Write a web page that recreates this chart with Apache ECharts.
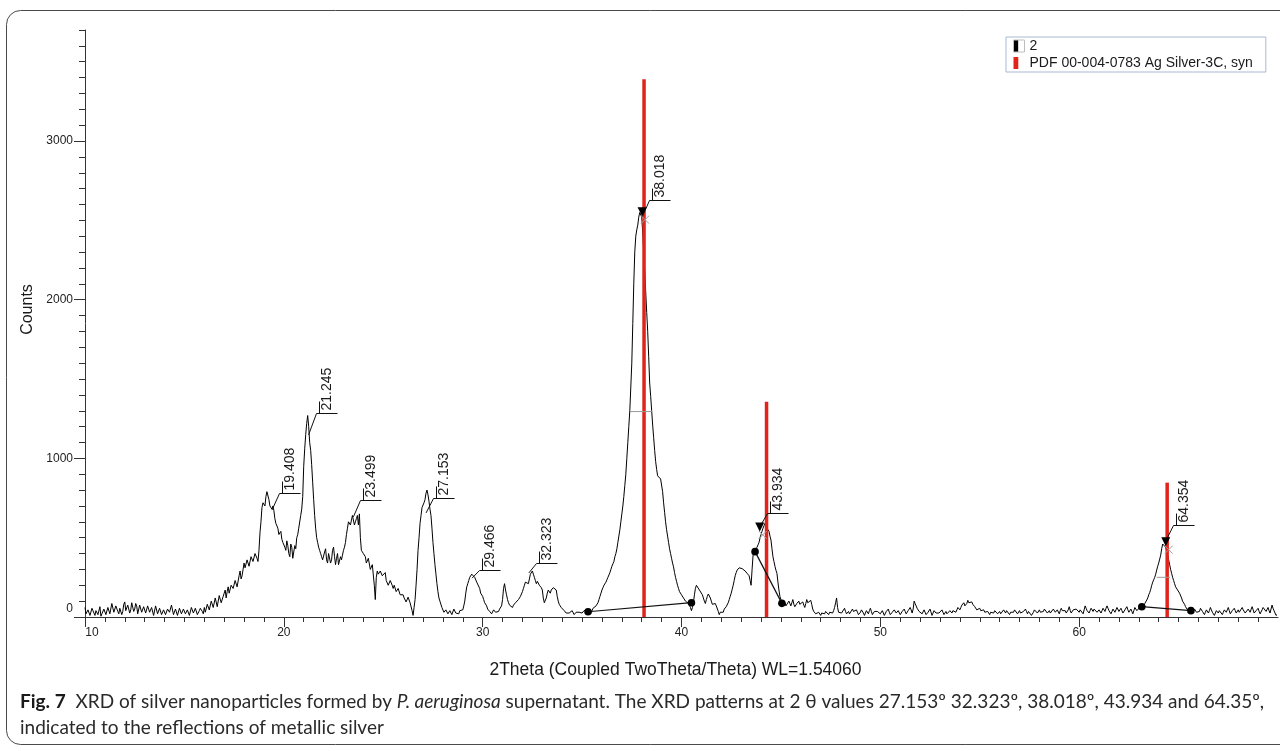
<!DOCTYPE html>
<html>
<head>
<meta charset="utf-8">
<script src="https://cdn.jsdelivr.net/npm/echarts@6/dist/echarts.min.js"></script>
<style>
  html, body { margin: 0; padding: 0; background: #ffffff; }
  #chart { width: 1280px; height: 751px; }
</style>
</head>
<body>
<div id="chart"></div>
<script>
// XRD scan: 2θ from 10.00° in 0.05° steps, intensity in counts (one row per degree)
const scanStart = 10.0;
const scanStep = 0.05;
const scanCounts = [
  60, 20, 15, 45, 45, 10, 20, 55, 50, 25, 10, 40, 35, 15, 25, 65, 5, 20, 30, 50,
  45, 15, 10, 60, 70, 20, 25, 85, 90, 30, 40, 70, 75, 35, 20, 55, 60, 15, 35, 80,
  95, 40, 30, 75, 80, 25, 45, 90, 100, 35, 50, 85, 70, 20, 30, 75, 85, 30, 40, 65,
  60, 25, 20, 70, 75, 30, 35, 60, 55, 10, 15, 70, 65, 20, 30, 55, 50, 15, 20, 45,
  45, 15, 10, 50, 55, 30, 25, 75, 70, 15, 20, 50, 40, 10, 15, 55, 60, 20, 25, 50,
  50, 20, 15, 45, 40, 10, 20, 60, 65, 25, 30, 55, 45, 15, 10, 40, 55, 60, 35, 20,
  60, 30, 25, 80, 85, 45, 40, 100, 110, 60, 55, 120, 125, 65, 70, 135, 140, 90, 95, 130,
  150, 170, 120, 160, 190, 150, 140, 200, 210, 180, 170, 230, 240, 190, 200, 260, 290, 240, 260, 300,
  340, 310, 300, 360, 370, 320, 330, 380, 390, 350, 360, 400, 400, 370, 350, 420, 530, 600, 690, 720,
  720, 700, 760, 790, 780, 740, 700, 690, 680, 700, 670, 620, 590, 600, 560, 520, 510, 540, 490, 470,
  470, 440, 420, 480, 450, 400, 380, 460, 440, 370, 360, 450, 430, 500, 520, 560, 560, 640, 680, 760,
  950, 1060, 1150, 1220, 1270, 1200, 1100, 1050, 960, 850, 740, 640, 560, 500, 470, 440, 420, 400, 380, 360,
  350, 410, 430, 360, 340, 400, 410, 340, 360, 420, 440, 380, 330, 370, 400, 330, 320, 380, 360, 390,
  420, 440, 470, 520, 560, 600, 610, 580, 590, 640, 630, 580, 600, 620, 640, 580, 650, 500, 420, 410,
  400, 390, 380, 340, 330, 370, 360, 300, 290, 330, 320, 200, 110, 250, 290, 270, 260, 290, 300, 260,
  250, 270, 280, 230, 220, 200, 190, 230, 240, 200, 180, 200, 210, 160, 150, 180, 170, 140, 130, 150,
  140, 120, 110, 95, 90, 125, 120, 90, 80, 40, 10, 60, 110, 200, 300, 420, 500, 590, 640, 690,
  700, 720, 740, 780, 800, 770, 730, 680, 640, 560, 470, 400, 330, 270, 210, 160, 120, 100, 90, 60,
  50, 30, 25, 45, 40, 20, 15, 40, 35, 15, 10, 50, 45, 25, 30, 20, 20, 40, 50, 35,
  45, 70, 100, 150, 190, 210, 230, 250, 260, 270, 280, 260, 250, 240, 220, 210, 210, 180, 150, 140,
  130, 110, 90, 80, 70, 50, 40, 35, 30, 20, 25, 45, 50, 30, 20, 40, 35, 50, 45, 70,
  110, 180, 210, 170, 140, 110, 90, 75, 70, 65, 60, 75, 80, 90, 95, 100, 110, 120, 130, 120,
  160, 180, 200, 220, 230, 215, 210, 240, 270, 280, 290, 270, 250, 230, 210, 225, 230, 200, 190, 185,
  170, 120, 90, 100, 120, 150, 170, 160, 150, 170, 180, 185, 190, 180, 170, 130, 100, 80, 70, 60,
  65, 50, 40, 30, 25, 35, 35, 25, 20, 30, 40, 30, 15, 25, 30, 20, 25, 30, 35, 25,
  25, 35, 40, 30, 30, 40, 45, 30, 20, 30, 40, 55, 65, 60, 70, 80, 90, 110, 130, 150,
  170, 185, 200, 210, 220, 235, 250, 265, 280, 300, 320, 335, 350, 380, 400, 430, 470, 510, 550, 600,
  650, 700, 760, 830, 900, 1000, 1100, 1200, 1300, 1450, 1600, 1850, 2100, 2300, 2400, 2440, 2470, 2520, 2550, 2540,
  2520, 2420, 2300, 2180, 2050, 1920, 1800, 1640, 1475, 1390, 1300, 1210, 1130, 1050, 980, 930, 890, 880, 880, 870,
  860, 790, 720, 660, 600, 550, 510, 470, 430, 400, 370, 340, 316, 280, 250, 225, 200, 180, 160, 150,
  140, 130, 120, 110, 100, 95, 95, 85, 80, 60, 40, 60, 90, 140, 180, 200, 212, 190, 170, 165,
  160, 140, 120, 100, 85, 110, 130, 145, 150, 120, 100, 80, 70, 80, 85, 70, 60, 35, 15, 30,
  40, 35, 30, 50, 60, 65, 70, 90, 110, 130, 150, 175, 200, 230, 260, 280, 296, 305, 310, 315,
  316, 305, 300, 295, 290, 280, 275, 270, 260, 230, 200, 300, 390, 405, 420, 430, 440, 455, 470, 500,
  520, 540, 560, 575, 590, 575, 560, 550, 540, 510, 485, 430, 380, 350, 320, 295, 275, 220, 170, 130,
  110, 90, 75, 85, 90, 70, 60, 80, 100, 85, 70, 90, 110, 80, 65, 75, 85, 95, 100, 80,
  70, 85, 95, 75, 60, 85, 110, 90, 80, 95, 105, 80, 50, 35, 25, 20, 15, 25, 30, 20,
  10, 25, 35, 30, 20, 35, 45, 25, 15, 30, 40, 30, 25, 40, 60, 90, 120, 60, 30, 35,
  40, 25, 15, 35, 55, 35, 20, 30, 35, 20, 10, 30, 50, 35, 25, 40, 45, 30, 15, 25,
  30, 45, 50, 25, 10, 25, 40, 30, 20, 40, 55, 35, 15, 25, 35, 30, 25, 35, 45, 30,
  20, 30, 40, 25, 10, 20, 35, 45, 50, 30, 15, 25, 30, 40, 45, 35, 25, 30, 40, 30,
  15, 25, 35, 45, 50, 35, 20, 30, 40, 50, 60, 45, 25, 50, 100, 85, 70, 55, 45, 35,
  35, 25, 20, 30, 45, 30, 15, 25, 30, 40, 50, 30, 10, 25, 40, 30, 25, 30, 35, 25,
  20, 35, 45, 30, 15, 25, 35, 20, 10, 25, 40, 30, 25, 40, 50, 45, 30, 45, 60, 50,
  45, 60, 75, 85, 90, 70, 60, 85, 105, 90, 80, 90, 95, 80, 70, 65, 55, 45, 40, 50,
  55, 40, 30, 40, 45, 30, 20, 30, 35, 25, 15, 30, 40, 35, 25, 40, 50, 35, 20, 30,
  35, 20, 10, 30, 45, 35, 25, 40, 50, 30, 15, 30, 40, 35, 30, 45, 55, 40, 20, 30,
  40, 25, 15, 25, 35, 45, 50, 35, 20, 35, 45, 25, 10, 20, 30, 45, 55, 40, 25, 35,
  45, 30, 20, 30, 35, 50, 60, 40, 25, 35, 40, 25, 15, 35, 50, 40, 30, 40, 45, 35,
  20, 40, 55, 40, 30, 35, 40, 25, 15, 45, 65, 40, 25, 35, 45, 40, 35, 50, 60, 45,
  30, 45, 50, 35, 20, 45, 70, 55, 40, 30, 25, 40, 55, 45, 35, 50, 60, 45, 30, 40,
  45, 35, 25, 40, 55, 45, 35, 55, 70, 55, 40, 30, 20, 35, 50, 40, 30, 45, 60, 50,
  35, 45, 55, 40, 25, 35, 45, 55, 65, 45, 30, 40, 50, 35, 20, 40, 60, 50, 40, 45,
  50, 60, 65, 60, 60, 70, 85, 95, 107, 120, 140, 155, 175, 200, 220, 235, 250, 270, 296, 320,
  340, 365, 390, 430, 460, 470, 470, 440, 420, 390, 360, 330, 300, 275, 250, 230, 210, 190, 180, 170,
  165, 150, 140, 120, 100, 90, 80, 65, 55, 45, 40, 45, 45, 35, 25, 35, 50, 40, 30, 25,
  20, 35, 55, 45, 35, 25, 15, 30, 45, 35, 25, 40, 60, 45, 30, 20, 10, 25, 40, 30,
  25, 40, 50, 30, 15, 30, 45, 40, 30, 45, 60, 40, 20, 30, 40, 50, 55, 40, 25, 35,
  45, 30, 20, 40, 60, 45, 35, 25, 15, 35, 50, 40, 30, 50, 65, 45, 25, 30, 40, 50,
  55, 35, 20, 30, 45, 60, 70, 50, 35, 45, 60, 40, 25, 50, 75, 55, 40, 30, 10, 15
];

// Reference pattern PDF 00-004-0783 (Ag, Silver-3C, syn)
const refPositions = [38.116, 44.277, 64.426];
const refCounts = [3390, 1356, 847];

// Peak search: labelled 2θ, count where the leader starts, count of the label bracket
const peakPositions = [19.408, 21.245, 23.499, 27.153, 29.466, 32.323, 38.018, 43.934, 64.354];
const peakApex = [675, 1148, 631, 656, 245, 278, 2520, 568, 479];
const peakLabelLevel = [780, 1285, 738, 753, 295, 339, 2627, 654, 580];

// Profile-fitted peaks (triangle markers)
const fittedPositions = [38.018, 43.934, 64.354];
const fittedCounts = [2555, 568, 475];

// Background segments under the fitted peaks
const bgStart2Theta = [35.3, 43.7, 63.15];
const bgStartCounts = [33, 412, 65];
const bgEnd2Theta = [40.5, 45.05, 65.62];
const bgEndCounts = [90, 86, 40];

// Half-maximum width bars
const fwhmLeft = [37.41, 63.9];
const fwhmRight = [38.51, 64.57];
const fwhmLevel = [1295, 250];

// Axis ticks
const xTickLabels = [10, 20, 30, 40, 50, 60];
const yTickLabels = [0, 1000, 2000, 3000];
const xMinorTicks = [];
for (let v = 11; v < 70; v++) if (v % 10 !== 0) xMinorTicks.push(v);
const yMinorTicks = [];
for (let v = 100; v <= 3700; v += 100) if (v % 1000 !== 0) yMinorTicks.push(v);

const FONT = '"Liberation Sans", Arial, sans-serif';
const CAPTION_FONT = 'Lato, "Noto Sans", sans-serif';
const INK = '#1a1a1a';

const scanData = scanCounts.map((c, i) => [+(scanStart + i * scanStep).toFixed(2), c]);

const chart = echarts.init(document.getElementById('chart'), null, { renderer: 'canvas' });

const axisLineStyle = { color: '#333', width: 1 };

chart.setOption({
  animation: false,
  backgroundColor: '#ffffff',
  grid: { left: 85, right: 2, top: 30, bottom: 134, containLabel: false },
  legend: {
    left: 1006, top: 37, orient: 'vertical',
    itemGap: 3, itemWidth: 11, itemHeight: 12,
    padding: [2, 13, 2, 7],
    borderColor: '#a9b8d2', borderWidth: 1, backgroundColor: '#ffffff',
    selectedMode: false,
    textStyle: { fontFamily: FONT, fontSize: 14, color: INK },
    data: [
      {
        name: '2', icon: 'rect',
        itemStyle: {
          color: { type: 'linear', x: 0, y: 0, x2: 1, y2: 0,
            colorStops: [{ offset: 0, color: '#000' }, { offset: 0.45, color: '#000' },
                         { offset: 0.46, color: '#fff' }, { offset: 1, color: '#fff' }] },
          borderColor: '#bdbdbd', borderWidth: 1
        }
      },
      {
        name: 'PDF 00-004-0783 Ag Silver-3C, syn', icon: 'rect',
        itemStyle: {
          color: { type: 'linear', x: 0, y: 0, x2: 1, y2: 0,
            colorStops: [{ offset: 0, color: '#e2231a' }, { offset: 0.45, color: '#e2231a' },
                         { offset: 0.46, color: 'rgba(255,255,255,0)' }, { offset: 1, color: 'rgba(255,255,255,0)' }] },
          borderWidth: 0
        }
      }
    ]
  },
  xAxis: [
    {
      type: 'value', min: 10, max: 70, position: 'bottom',
      axisLine: { show: true, lineStyle: axisLineStyle },
      axisTick: { show: true, length: 10, customValues: xTickLabels, lineStyle: axisLineStyle },
      axisLabel: {
        customValues: xTickLabels, margin: 10,
        fontFamily: FONT, fontSize: 12, color: '#222',
        formatter: v => (v === 10 ? '{f|10}' : String(v)),
        rich: { f: { padding: [0, 0, 0, 14], fontFamily: FONT, fontSize: 12, color: '#222' } }
      },
      splitLine: { show: false },
      name: '2Theta (Coupled TwoTheta/Theta) WL=1.54060',
      nameLocation: 'middle', nameGap: 44,
      nameTextStyle: { fontFamily: FONT, fontSize: 17.5, color: INK, padding: [0, 12, 0, 0] }
    },
    {
      type: 'value', min: 10, max: 70, position: 'bottom',
      axisLine: { show: false },
      axisTick: { show: true, length: 5, customValues: xMinorTicks, lineStyle: axisLineStyle },
      axisLabel: { show: false },
      splitLine: { show: false }
    }
  ],
  yAxis: [
    {
      type: 'value', min: 0, max: 3700, position: 'left',
      axisLine: { show: true, lineStyle: axisLineStyle },
      axisTick: { show: true, length: 11, customValues: yTickLabels, lineStyle: axisLineStyle },
      axisLabel: {
        customValues: yTickLabels, margin: 12,
        fontFamily: FONT, fontSize: 12, color: '#222',
        formatter: v => (v === 0 ? '{z|0}' : String(v)),
        rich: { z: { padding: [0, 0, 16, 0], fontFamily: FONT, fontSize: 12, color: '#222' } }
      },
      splitLine: { show: false },
      name: 'Counts', nameLocation: 'middle', nameGap: 46,
      nameTextStyle: { fontFamily: FONT, fontSize: 16, color: INK, padding: [0, 0, 0, 28] }
    },
    {
      type: 'value', min: 0, max: 3700, position: 'left',
      axisLine: { show: false },
      axisTick: { show: true, length: 6, customValues: yMinorTicks, lineStyle: axisLineStyle },
      axisLabel: { show: false },
      splitLine: { show: false }
    }
  ],
  series: [
    {
      name: '2', type: 'line', data: scanData,
      xAxisIndex: 0, yAxisIndex: 0,
      showSymbol: false, symbol: 'none',
      lineStyle: { color: '#000', width: 1 },
      itemStyle: { color: '#000' },
      z: 2
    },
    {
      name: 'PDF 00-004-0783 Ag Silver-3C, syn', type: 'custom',
      xAxisIndex: 0, yAxisIndex: 0,
      data: refPositions.map((p, i) => [p, refCounts[i]]),
      itemStyle: { color: '#e2231a' },
      renderItem(params, api) {
        const top = api.coord([api.value(0), api.value(1)]);
        const base = api.coord([api.value(0), 0]);
        return {
          type: 'rect',
          shape: { x: top[0] - 1.75, y: top[1], width: 3.5, height: base[1] - top[1] },
          style: { fill: '#e2231a' }
        };
      },
      z: 3
    },
    {
      name: 'halfWidths', type: 'custom',
      xAxisIndex: 0, yAxisIndex: 0,
      data: fwhmLeft.map((l, i) => [l, fwhmRight[i], fwhmLevel[i]]),
      renderItem(params, api) {
        const a = api.coord([api.value(0), api.value(2)]);
        const b = api.coord([api.value(1), api.value(2)]);
        return { type: 'line', shape: { x1: a[0], y1: a[1], x2: b[0], y2: b[1] },
                 style: { stroke: '#9a9a9a', lineWidth: 1 } };
      },
      z: 4
    },
    {
      name: 'background', type: 'custom',
      xAxisIndex: 0, yAxisIndex: 0,
      data: bgStart2Theta.map((s, i) => [s, bgStartCounts[i], bgEnd2Theta[i], bgEndCounts[i]]),
      renderItem(params, api) {
        const a = api.coord([api.value(0), api.value(1)]);
        const b = api.coord([api.value(2), api.value(3)]);
        return {
          type: 'group',
          children: [
            { type: 'line', shape: { x1: a[0], y1: a[1], x2: b[0], y2: b[1] }, style: { stroke: '#111', lineWidth: 1.2 } },
            { type: 'circle', shape: { cx: a[0], cy: a[1], r: 3.8 }, style: { fill: '#000' } },
            { type: 'circle', shape: { cx: b[0], cy: b[1], r: 3.8 }, style: { fill: '#000' } }
          ]
        };
      },
      z: 5
    },
    {
      name: 'peakLabels', type: 'custom',
      xAxisIndex: 0, yAxisIndex: 0,
      data: peakPositions.map((p, i) => [p, peakApex[i], peakLabelLevel[i]]),
      renderItem(params, api) {
        const a = api.coord([api.value(0), api.value(1)]);
        const lv = api.coord([api.value(0), api.value(2)]);
        const cx = Math.round(a[0] + 7) + 0.5;
        const cy = Math.round(lv[1]) + 0.5;
        const stroke = { stroke: '#111', lineWidth: 1 };
        return {
          type: 'group',
          children: [
            { type: 'line', shape: { x1: a[0], y1: a[1], x2: cx, y2: cy }, style: stroke },
            { type: 'line', shape: { x1: cx, y1: cy, x2: cx + 21, y2: cy }, style: stroke },
            { type: 'line', shape: { x1: cx + 3, y1: cy, x2: cx + 3, y2: cy - 12 }, style: stroke },
            {
              type: 'text', x: cx + 11, y: cy - 3, rotation: Math.PI / 2,
              style: {
                text: peakPositions[params.dataIndex].toFixed(3),
                x: 0, y: 0, align: 'left', verticalAlign: 'middle',
                fontFamily: FONT, fontSize: 14, fill: INK
              }
            }
          ]
        };
      },
      z: 6
    },
    {
      name: 'fittedPeaks', type: 'custom',
      xAxisIndex: 0, yAxisIndex: 0,
      data: fittedPositions.map((p, i) => [p, fittedCounts[i]]),
      renderItem(params, api) {
        const p = api.coord([api.value(0), api.value(1)]);
        const gx = p[0] + 3, gy = p[1] + 8;
        const grey = { stroke: '#a0a0a0', lineWidth: 1 };
        return {
          type: 'group',
          children: [
            { type: 'line', shape: { x1: gx - 4, y1: gy - 4, x2: gx + 4, y2: gy + 4 }, style: grey },
            { type: 'line', shape: { x1: gx - 4, y1: gy + 4, x2: gx + 4, y2: gy - 4 }, style: grey },
            {
              type: 'polygon',
              shape: { points: [[p[0] - 4.5, p[1] - 4.5], [p[0] + 4.5, p[1] - 4.5], [p[0], p[1] + 4.5]] },
              style: { fill: '#000' }
            }
          ]
        };
      },
      z: 7
    }
  ],
  graphic: [
    {
      type: 'rect', silent: true, z: -10,
      shape: { x: 6.5, y: 10.5, width: 1300, height: 734, r: 14 },
      style: { fill: 'none', stroke: '#4a4a4a', lineWidth: 1 }
    },
    {
      type: 'text', left: 20, top: 692, silent: true,
      style: {
        text: '{b|Fig. 7}  XRD of silver nanoparticles formed by {i|P. aeruginosa} supernatant. The XRD patterns at 2 θ values 27.153º 32.323º, 38.018º, 43.934 and 64.35º,',
        fontFamily: CAPTION_FONT, fontSize: 19, fill: '#2a2a2a',
        rich: {
          b: { fontFamily: CAPTION_FONT, fontSize: 19, fontWeight: 'bold', fill: '#1a1a1a' },
          i: { fontFamily: CAPTION_FONT, fontSize: 19, fontStyle: 'italic', fill: '#2a2a2a' }
        }
      }
    },
    {
      type: 'text', left: 20, top: 718, silent: true,
      style: {
        text: 'indicated to the reflections of metallic silver',
        fontFamily: CAPTION_FONT, fontSize: 19, fill: '#2a2a2a'
      }
    }
  ]
});
</script>
</body>
</html>
